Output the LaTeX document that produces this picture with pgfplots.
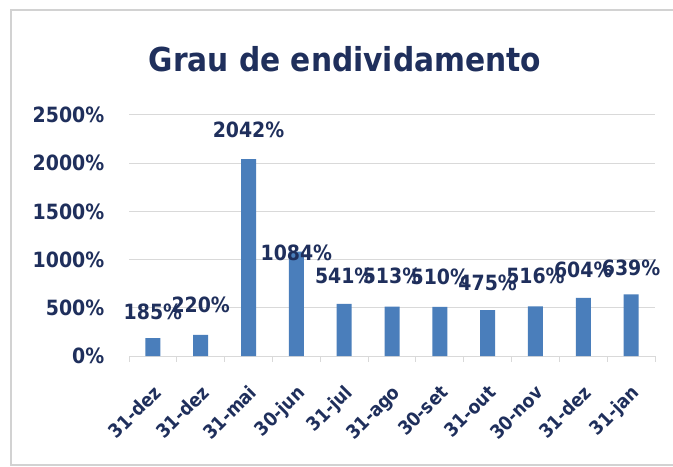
\documentclass[border=0pt]{standalone}
\usepackage{pgfplots}
\pgfplotsset{compat=1.18}
\usepackage{fontspec}
\setmainfont{DejaVu Sans Condensed}
\definecolor{txt}{HTML}{1F2F5C}
\definecolor{barc}{HTML}{4A7EBB}
\definecolor{gridc}{HTML}{D9D9D9}
\begin{document}
\begin{tikzpicture}
\useasboundingbox (0,0) rectangle (673bp,467bp);
\fill[white] (0,0) rectangle (673bp,467bp);
\draw[gray!35, line width=1.5bp] (690bp,457bp) -- (11bp,457bp) -- (11bp,2bp) -- (690bp,2bp);
\node[text=txt, font=\bfseries\fontsize{33bp}{38bp}\selectfont] at (345bp,408bp) {Grau de endividamento};
\begin{axis}[
  at={(129bp,111bp)}, anchor=south west,
  scale only axis, width=526bp, height=241bp,
  xmin=-0.5, xmax=10.5, ymin=0, ymax=2500,
  axis x line*=bottom, axis y line*=left,
  x axis line style={gridc, line width=1bp, -},
  y axis line style={draw=none},
  ytick={0,500,...,2500},
  yticklabel={\pgfmathprintnumber[fixed,1000 sep={}]{\tick}\%},
  ymajorgrids, grid style={gridc, line width=1bp},
  xtick={0,...,10},
  xticklabels={31-dez,31-dez,31-mai,30-jun,31-jul,31-ago,30-set,31-out,30-nov,31-dez,31-jan},
  major x tick style={draw=none},
  minor xtick={-0.5,0.5,...,10.5},
  minor x tick style={gridc, line width=1bp},
  minor tick length=6bp,
  xtick pos=bottom, tick align=outside,
  x tick label style={rotate=45, anchor=north east, text=txt, font=\bfseries\fontsize{19bp}{23bp}\selectfont, inner sep=1bp, xshift=-16bp, yshift=-15bp},
  y tick label style={text=txt, font=\bfseries\fontsize{21bp}{25bp}\selectfont, xshift=-17bp},
  /pgf/number format/assume math mode=true,
  ytick style={draw=none},
  clip=false,
]
\addplot[ybar, bar width=15bp, fill=barc, draw=none] coordinates {
 (0,185) (1,220) (2,2042) (3,1084) (4,541) (5,513) (6,510) (7,475) (8,516) (9,604) (10,639)};
\addplot[only marks, mark=none, nodes near coords, point meta=explicit symbolic,
  every node near coord/.append style={anchor=center, text=txt, font=\bfseries\fontsize{21bp}{26bp}\selectfont}]
  table[meta=label, row sep=\\] {
 x y label\\
 0 456 185\%\\
 1 529 220\%\\
 2 2344 2042\%\\
 3 1068 1084\%\\
 4 830 541\%\\
 5 830 513\%\\
 6 820 510\%\\
 7 757 475\%\\
 8 830 516\%\\
 9 892 604\%\\
 10 913 639\%\\
 };
\end{axis}
\end{tikzpicture}
\end{document}
